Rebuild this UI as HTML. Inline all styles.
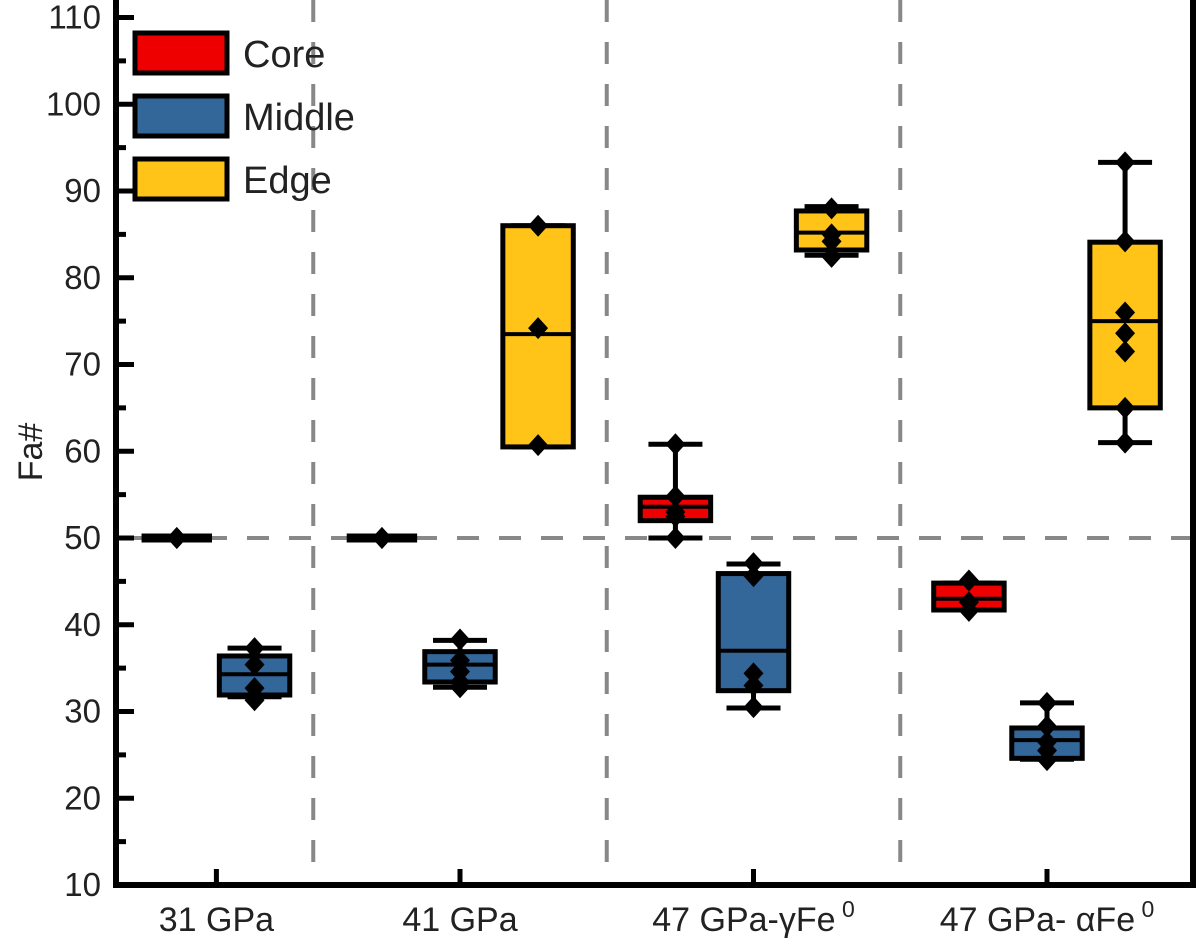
<!DOCTYPE html>
<html><head><meta charset="utf-8"><style>
html,body{margin:0;padding:0;background:#fff;}
svg{display:block;font-family:"Liberation Sans",Arial,sans-serif;}
</style></head><body>
<svg id="chart" width="1200" height="944" viewBox="0 0 1200 944">
</svg>
<script>
const categories = ["31 GPa","41 GPa","47 GPa-γFe","47 GPa- αFe"];
const categoryTickPos = [1.17, 2, 3, 4];
const dividerPos = [1.5, 2.5, 3.5];
const refLineValue = 50;
const yTicks = [10,20,30,40,50,60,70,80,90,100,110];
const seriesNames = ["Core","Middle","Edge"];
const seriesColors = ["#ee0000","#336699","#ffc417"];
// box positions (x units), series index, stats [whiskerLow, q1, median, q3, whiskerHigh]
const boxPos = [1.035, 1.30, 1.734, 2, 2.266, 2.734, 3, 3.266, 3.734, 4, 4.266];
const boxSeries = [0,1,0,1,2,0,1,2,0,1,2];
const boxStats = [
  [50,50,50,50,50],
  [31.7,31.9,34.3,36.4,37.3],
  [50,50,50,50,50],
  [32.8,33.4,35.4,36.9,38.2],
  [60.5,60.5,73.5,86.0,86.0],
  [50,52.0,53.6,54.7,60.8],
  [30.4,32.4,37.0,45.9,47.0],
  [82.6,83.2,85.2,87.7,88.2],
  [41.7,41.7,43.0,44.8,44.8],
  [24.5,24.6,26.7,28.1,31.0],
  [61.0,65.0,75.0,84.1,93.3]
];
const boxPoints = [
  [50,50],
  [37.3,35.4,32.7,31.3],
  [50,50],
  [38.3,35.9,34.6,33.4,32.8],
  [86.0,74.2,60.7],
  [60.8,54.8,53.0,52.5,50.0],
  [47.1,45.6,34.4,33.0,30.5],
  [88.0,85.0,84.2,82.4],
  [45.1,42.6,41.6],
  [31.0,28.3,26.5,25.5,24.4],
  [93.3,84.2,76.0,73.6,71.5,65.0,61.0]
];

const NS = "http://www.w3.org/2000/svg";
const svg = document.getElementById("chart");
const X0 = 116, X1 = 1193, YB = 885, YT = 17.5;
const xS = u => 460 + (u - 2) * 293.5;
const yS = v => YB - (v - 10) * (YB - YT) / 100;
function mk(tag, attrs, parent){ const e=document.createElementNS(NS,tag); for(const k in attrs) e.setAttribute(k,attrs[k]); (parent||svg).appendChild(e); return e; }

dividerPos.forEach(d=>{
  const l = mk("line",{x1:xS(d),x2:xS(d),y1:0,y2:YB,stroke:"#888",'stroke-width':4,'stroke-dasharray':"22 20"});
  
  
});
const rl = mk("line",{x1:X0,x2:X1,y1:yS(refLineValue),y2:yS(refLineValue),stroke:"#888",'stroke-width':4,'stroke-dasharray':"22 20",'stroke-dashoffset':-5});



const BW = 0.24;
boxPos.forEach((p,i)=>{
  const g = mk("g",{});
  
  
  const s = boxStats[i], cx = xS(p), hw = BW*293.5/2, cw = 27;
  const flat = s[3]-s[1] < 0.01;
  mk("line",{x1:cx,x2:cx,y1:yS(s[0]),y2:yS(s[4]),stroke:"#000",'stroke-width':5},g);
  mk("line",{x1:cx-cw,x2:cx+cw,y1:yS(s[0]),y2:yS(s[0]),stroke:"#000",'stroke-width':5},g);
  mk("line",{x1:cx-cw,x2:cx+cw,y1:yS(s[4]),y2:yS(s[4]),stroke:"#000",'stroke-width':5},g);
  if(flat){
    mk("line",{x1:cx-hw,x2:cx+hw,y1:yS(s[2]),y2:yS(s[2]),stroke:"#000",'stroke-width':9},g);
  } else {
    mk("rect",{x:cx-hw,y:yS(s[3]),width:2*hw,height:yS(s[1])-yS(s[3]),fill:seriesColors[boxSeries[i]],stroke:"#000",'stroke-width':5},g);
    mk("line",{x1:cx-hw,x2:cx+hw,y1:yS(s[2]),y2:yS(s[2]),stroke:"#000",'stroke-width':4},g);
  }
  boxPoints[i].forEach(v=>{
    const y=yS(v);
    const d = mk("polygon",{points:`${cx},${y-11} ${cx+10},${y} ${cx},${y+11} ${cx-10},${y}`,fill:"#000"},g);
    
    
  });
});

const ax = mk("path",{d:`M${X0},0 V${YB} H${X1} V0`,fill:"none",stroke:"#000",'stroke-width':6});


yTicks.forEach((t,i)=>{
  const y=yS(t);
  mk("line",{x1:X0,x2:X0+18,y1:y,y2:y,stroke:"#000",'stroke-width':5});
  if(i<yTicks.length-1){ const ym=yS(t+5); mk("line",{x1:X0,x2:X0+10,y1:ym,y2:ym,stroke:"#000",'stroke-width':5}); }
  const tx = mk("text",{x:101,y:y+11,'text-anchor':"end",'font-size':33,fill:"#222"});
  tx.textContent=t;
  
  
});
categories.forEach((c,i)=>{
  const x=xS(categoryTickPos[i]);
  mk("line",{x1:x,x2:x,y1:YB,y2:YB-16,stroke:"#000",'stroke-width':5});
  const tx = mk("text",{x:x,y:931,'text-anchor':"middle",'font-size':34,fill:"#222"});
  tx.textContent=c;
  if(i>=2){ const sp=mk("tspan",{dy:-14,'font-size':23},tx); sp.textContent=" 0"; }
  
  
});
const yt = mk("text",{x:0,y:0,transform:"translate(42,452) rotate(-90)",'text-anchor':"middle",'font-size':34,fill:"#222"});
yt.textContent="Fa#";



seriesNames.forEach((n,i)=>{
  const g = mk("g",{});
  
  
  const y = 33 + i*63;
  mk("rect",{x:135,y:y,width:92,height:40,fill:seriesColors[i],stroke:"#000",'stroke-width':5},g);
  const t = mk("text",{x:243,y:y+34,'font-size':38,fill:"#222"},g);
  t.textContent=n;
});
</script>
</body></html>
